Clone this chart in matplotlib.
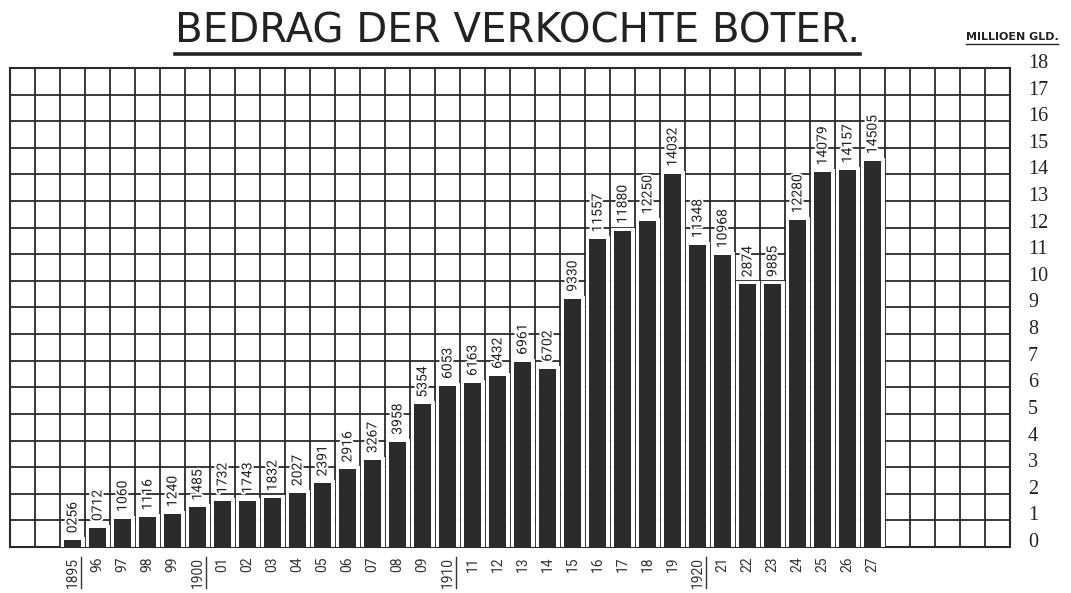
import numpy as np
import matplotlib
matplotlib.use("Agg")
import matplotlib.pyplot as plt
import matplotlib.patheffects as pe
from matplotlib.lines import Line2D

# data (millions of guilders)
years = ["1895", "96", "97", "98", "99", "1900", "01", "02", "03", "04", "05",
         "06", "07", "08", "09", "1910", "11", "12", "13", "14", "15", "16",
         "17", "18", "19", "1920", "21", "22", "23", "24", "25", "26", "27"]
values = [0.256, 0.712, 1.060, 1.116, 1.240, 1.485, 1.732, 1.743, 1.832, 2.027,
          2.391, 2.916, 3.267, 3.958, 5.354, 6.053, 6.163, 6.432, 6.961, 6.702,
          9.330, 11.557, 11.880, 12.250, 14.032, 11.348, 10.968, 9.874, 9.885,
          12.280, 14.079, 14.157, 14.505]
bar_labels = ["0256", "0712", "1060", "1116", "1240", "1485", "1732", "1743",
              "1832", "2027", "2391", "2916", "3267", "3958", "5354", "6053",
              "6163", "6432", "6961", "6702", "9330", "11557", "11880", "12250",
              "14032", "11348", "10968", "2874", "9885", "12280", "14079",
              "14157", "14505"]
underlined = ["1895", "1900", "1910", "1920"]
y_ticks = list(range(0, 19))

N_COLS = 40      # grid columns on the sheet
FIRST_COL = 2    # two empty columns before 1895
SANS = ["Roboto", "DejaVu Sans"]
SERIF = ["Liberation Serif", "DejaVu Serif"]

fig = plt.figure(figsize=(10.71, 5.93), dpi=100)
ax = fig.add_axes([0.0093, 0.0776, 0.9337, 0.8078])

x = np.arange(len(years)) + FIRST_COL

# grid like squared paper
ax.set_xlim(-0.5, N_COLS - 0.5)
ax.set_ylim(0, 18)
ax.set_xticks(np.arange(-0.5, N_COLS, 1), minor=True)
ax.set_yticks(y_ticks)
ax.grid(True, which="minor", axis="x", color="#2a2a2a", lw=1.3)
ax.grid(True, which="major", axis="y", color="#2a2a2a", lw=1.3)
ax.set_axisbelow(True)
for s in ax.spines.values():
    s.set_color("#2a2a2a")
    s.set_linewidth(1.5)

bars = ax.bar(x, values, width=0.68, color="#2b2b2b", zorder=3)
for b in bars:
    b.set_path_effects([pe.Stroke(linewidth=5, foreground="white"), pe.Normal()])

for xi, v, lab in zip(x, values, bar_labels):
    ax.annotate(lab, (xi, v), xytext=(0, 5), textcoords="offset points",
                rotation=90, ha="center", va="bottom", fontsize=10,
                family=SANS, color="#222", zorder=4,
                path_effects=[pe.withStroke(linewidth=3, foreground="white")])

# x labels under the bars
ax.set_xticks(x)
ax.set_xticklabels(years, rotation=90, family=SANS, fontsize=10, color="#333")
ax.tick_params(axis="x", which="both", length=0, pad=7)

# y labels on the right, sitting a bit above their lines
ax.yaxis.tick_right()
ax.set_yticklabels([str(t) for t in y_ticks], family=SERIF, fontsize=14.5,
                   color="#222")
ax.tick_params(axis="y", length=0, pad=13)
for lbl in ax.get_yticklabels():
    lbl.set_va("baseline")

title = fig.text(0.483, 0.929, "BEDRAG DER VERKOCHTE BOTER.", ha="center",
                 va="baseline", fontsize=29, family="DejaVu Sans", color="#222")
unit = fig.text(0.945, 0.933, "MILLIOEN GLD.", ha="center", va="baseline",
                fontsize=8, family="DejaVu Sans", weight="bold", color="#222")

# underlines
fig.canvas.draw()
inv = fig.transFigure.inverted()
r = fig.canvas.get_renderer()
for t, gap, lw in [(title, 3, 2.6), (unit, 2, 1.0)]:
    bb = t.get_window_extent(r)
    (x0, y0), (x1, _) = inv.transform([[bb.x0, bb.y0 - gap], [bb.x1, bb.y0]])
    fig.add_artist(Line2D([x0, x1], [y0, y0], color="#222", lw=lw))
for lbl in ax.get_xticklabels():
    if lbl.get_text() in underlined:
        bb = lbl.get_window_extent(r)
        (x0, y0), (_, y1) = inv.transform([[bb.x1 + 1.5, bb.y0], [bb.x1, bb.y1]])
        fig.add_artist(Line2D([x0, x0], [y0, y1], color="#333", lw=1.0))

fig.savefig("out.png", dpi=100, facecolor="white")
